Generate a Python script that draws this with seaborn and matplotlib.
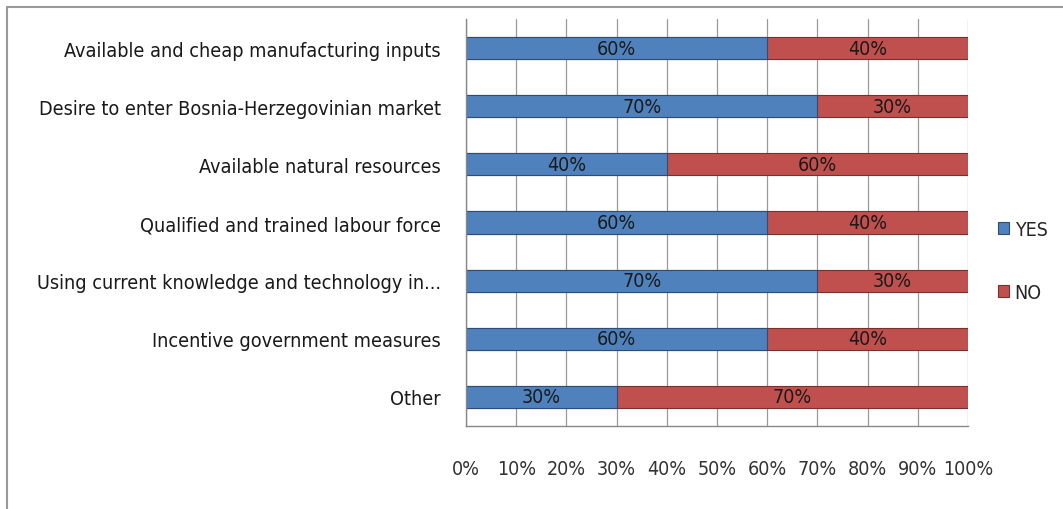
import matplotlib
matplotlib.use("Agg")
import matplotlib.pyplot as plt
import matplotlib.font_manager as fm
import pandas as pd
import seaborn as sns

factors = [
    "Available and cheap manufacturing inputs",
    "Desire to enter Bosnia-Herzegovinian market",
    "Available natural resources",
    "Qualified and trained labour force",
    "Using current knowledge and technology in...",
    "Incentive government measures",
    "Other",
]
yes_pct = [60, 70, 40, 60, 70, 60, 30]
no_pct = [40, 30, 60, 40, 30, 40, 70]
series_names = ["YES", "NO"]
tick_labels = [f"{v}%" for v in range(0, 101, 10)]

blue = "#4F81BD"
red = "#C0504D"

sns.set_style("white")

# a narrow face is closest to the original; take what is installed
fonts = fm.fontManager.ttflist
stretch = "normal"
if any(f.name == "Liberation Sans Narrow" for f in fonts):
    family = "Liberation Sans Narrow"
elif any(f.name == "DejaVu Sans" and f.stretch == "condensed" for f in fonts):
    family = "DejaVu Sans"
    stretch = "condensed"
else:
    family = "Lato"
plt.rcParams["font.family"] = [family, "DejaVu Sans"]
plt.rcParams["font.stretch"] = stretch

df = pd.DataFrame({"factor": factors, "YES": yes_pct, "NO": no_pct})
df["total"] = df["YES"] + df["NO"]

fig = plt.figure(figsize=(10.63, 5.10), dpi=100)
renderer = fig.canvas.get_renderer()


def fit_size(text, width_px, base=16):
    t = fig.text(0, 0, text, fontsize=base, fontstretch=stretch)
    w = t.get_window_extent(renderer).width
    t.remove()
    return base * width_px / w


label_fs = min(fit_size(factors[0], 379), 17)
value_fs = min(fit_size("100%", 51), 17)

ax = fig.add_axes([466 / 1063, 1 - 427 / 510, (968 - 466) / 1063, (427 - 20) / 510])

# stacked: full bar in red, YES part on top in blue
sns.barplot(data=df, y="factor", x="total", color=red, saturation=1, orient="h",
            width=0.38, edgecolor="#7a2f2d", linewidth=0.8, ax=ax, label="NO")
sns.barplot(data=df, y="factor", x="YES", color=blue, saturation=1, orient="h",
            width=0.38, edgecolor="#2c4d75", linewidth=0.8, ax=ax, label="YES")
handles, labels = ax.get_legend_handles_labels()
if ax.get_legend() is not None:
    ax.get_legend().remove()

# segment labels
for i, row in df.iterrows():
    ax.text(row["YES"] / 2, i, f"{row['YES']}%", ha="center", va="center",
            fontsize=value_fs, color="#1a1a1a")
    ax.text(row["YES"] + row["NO"] / 2, i, f"{row['NO']}%", ha="center", va="center",
            fontsize=value_fs, color="#1a1a1a")

ax.set_xlim(0, 100)
ax.set_ylim(len(factors) - 0.5, -0.5)
ax.set_xticks(range(0, 101, 10))
ax.set_xticklabels(tick_labels, fontsize=value_fs, color="#333333")
ax.set_yticks([i - 0.5 for i in range(len(factors) + 1)])
ax.set_yticklabels([])
ax.set_yticks(range(len(factors)), minor=True)
ax.set_yticklabels(factors, minor=True, fontsize=label_fs, color="#1a1a1a")
ax.tick_params(axis="y", which="minor", length=0, pad=18)
ax.tick_params(axis="y", which="major", length=6, color="#888888", direction="out")
ax.tick_params(axis="x", length=10, color="#888888", pad=14, direction="out")
ax.set_xlabel("")
ax.set_ylabel("")
ax.xaxis.grid(True, color="#9a9a9a", linewidth=0.9)
ax.set_axisbelow(True)
for s in ["top", "right"]:
    ax.spines[s].set_visible(False)
for s in ["left", "bottom"]:
    ax.spines[s].set_color("#888888")
    ax.spines[s].set_linewidth(1.0)

# legend
order = [labels.index(n) for n in series_names]
fig.legend([handles[k] for k in order], series_names, loc="center left",
           bbox_to_anchor=(990 / 1063, 1 - 262 / 510), frameon=False,
           fontsize=value_fs, handlelength=0.55, handleheight=0.55, labelspacing=2.2,
           handletextpad=0.3, borderaxespad=0)

# outer chart frame (only top and left visible in the crop)
fig.patches.append(plt.Rectangle((7 / 1063, -0.1), 1.2, 1 - 8 / 510 + 0.1,
                                 transform=fig.transFigure, fill=False,
                                 edgecolor="#9a9a9a", linewidth=1.5))

fig.savefig("out.png", dpi=100)
